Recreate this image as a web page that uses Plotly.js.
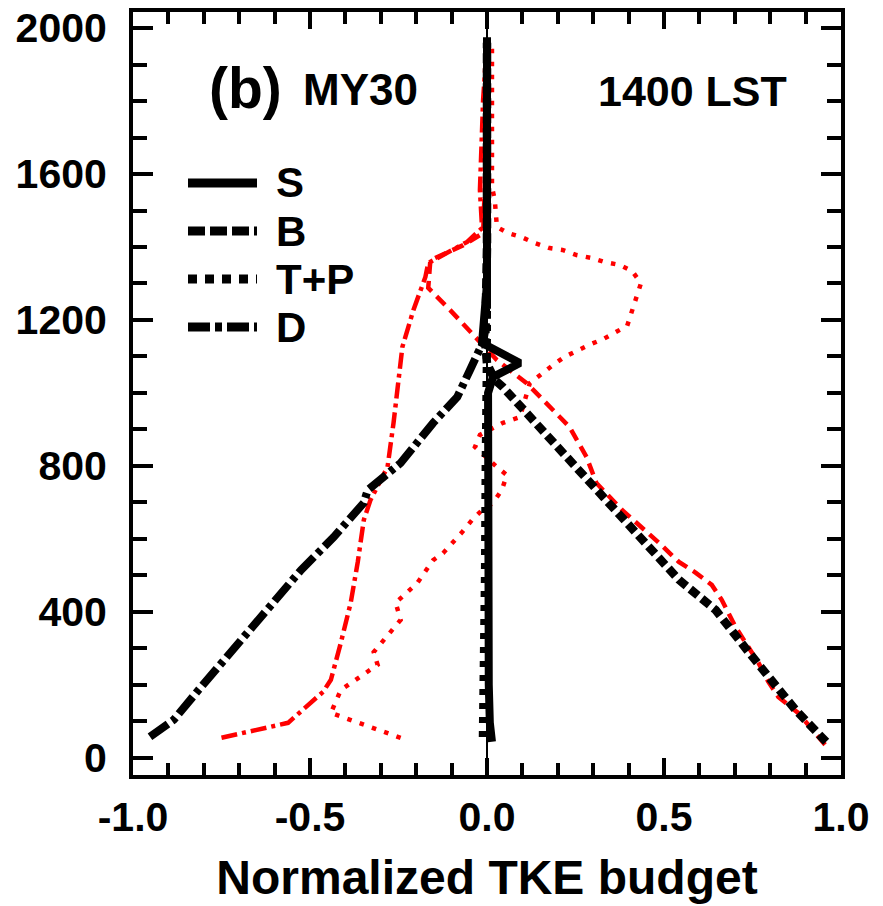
<!DOCTYPE html>
<html><head><meta charset="utf-8">
<script src="https://cdn.plot.ly/plotly-3.0.1.min.js"></script>
<style>html,body{margin:0;padding:0;background:#fff}</style>
</head><body>
<div id="chart" style="width:883px;height:906px"></div>
<script>
// ---- data (normalized TKE budget terms vs height in m) ----
const xTickVals = [-1, -0.5, 0, 0.5, 1];
const xTickText = ['-1.0', '-0.5', '0.0', '0.5', '1.0'];
const yTickVals = [0, 400, 800, 1200, 1600, 2000];
const yTickText = ['0', '400', '800', '1200', '1600', '2000'];

// black curves
const S_z = [44, 96, 200, 400, 600, 800, 1000, 1044, 1082, 1137, 1300, 1500, 1700, 1975];
const S_v = [0.014, 0.008, 0.005, 0.004, 0.003, 0.003, 0.003, 0.017, 0.093, -0.014, 0.0, 0.0, 0.0, 0.0];
const B_z = [44, 132, 290, 405, 488, 578, 679, 753, 852, 934, 1016, 1036, 1080, 1140, 1400, 1960];
const B_v = [0.958, 0.871, 0.739, 0.646, 0.542, 0.458, 0.365, 0.298, 0.205, 0.129, 0.045, 0.022, 0.0, -0.005, 0.0, 0.0];
const TP_z = [57, 200, 500, 800, 1000, 1150, 1960];
const TP_v = [-0.012, -0.009, -0.006, -0.004, -0.002, 0.0, 0.0];
const D_z = [58, 104, 186, 304, 425, 515, 605, 699, 734, 808, 918, 989, 1063, 1126, 1140, 1200, 1960];
const D_v = [-0.952, -0.885, -0.815, -0.713, -0.610, -0.525, -0.433, -0.348, -0.337, -0.244, -0.152, -0.084, -0.048, -0.020, -0.011, 0.0, 0.0];

// red curves
const rB_z = [36, 123, 167, 208, 260, 304, 359, 433, 474, 507, 537, 589, 638, 679, 753, 825, 907, 1027, 1090, 1200, 1227, 1288, 1364, 1405, 1438, 1600, 1960];
const rB_v = [0.955, 0.879, 0.823, 0.795, 0.767, 0.739, 0.702, 0.663, 0.635, 0.590, 0.542, 0.486, 0.430, 0.382, 0.309, 0.281, 0.233, 0.112, 0.028, -0.076, -0.104, -0.166, -0.160, -0.067, -0.011, -0.005, 0.0];
const rTP_z = [55, 123, 186, 255, 290, 378, 425, 479, 542, 561, 619, 652, 679, 699, 734, 775, 797, 852, 885, 918, 934, 1027, 1074, 1099, 1132, 1148, 1184, 1260, 1301, 1334, 1351, 1359, 1370, 1378, 1392, 1397, 1411, 1427, 1438, 1455, 1529, 1564, 1700, 1959];
const rTP_v = [-0.244, -0.441, -0.413, -0.309, -0.320, -0.244, -0.258, -0.197, -0.152, -0.124, -0.070, -0.042, -0.014, 0.017, 0.042, 0.056, 0.028, -0.034, -0.020, 0.045, 0.093, 0.121, 0.183, 0.219, 0.289, 0.329, 0.396, 0.421, 0.435, 0.410, 0.374, 0.331, 0.295, 0.253, 0.213, 0.177, 0.135, 0.098, 0.059, 0.028, 0.022, 0.014, 0.014, 0.014];
const rD_z = [55, 96, 181, 214, 315, 425, 537, 652, 707, 797, 918, 1126, 1227, 1318, 1356, 1414, 1452, 1556, 1803, 1967];
const rD_v = [-0.750, -0.562, -0.463, -0.441, -0.413, -0.385, -0.365, -0.348, -0.329, -0.281, -0.264, -0.239, -0.208, -0.174, -0.166, -0.056, -0.014, -0.020, -0.011, 0.0];

const legendNames = ['S', 'B', 'T+P', 'D'];

// ---- styles ----
const FONT = 'Liberation Sans, Arial, Helvetica, sans-serif';
const RED = '#ff0000';
function tr(x, y, color, width, dash) {
  return {x: x, y: y, type: 'scatter', mode: 'lines', showlegend: false, hoverinfo: 'skip',
          line: {color: color, width: width, dash: dash}};
}
const data = [
  tr(rTP_v, rTP_z, RED, 4.5, '4.5px,8.5px'),
  tr(rD_v, rD_z, RED, 4.5, '16px,5px,4px,5px'),
  tr(rB_v, rB_z, RED, 4.5, '12px,7px'),
  tr(TP_v, TP_z, '#000', 8, '6px,8px'),
  tr(D_v, D_z, '#000', 8, '22px,5px,5px,5px'),
  tr(B_v, B_z, '#000', 8.5, '10px,5px'),
  tr(S_v, S_z, '#000', 8, 'solid')
];

// legend samples (paper coords)
const L = 133, R = 841, T = 12, Bt = 775;
const xp = px => (px - L) / (R - L);
const yp = py => (Bt - py) / (Bt - T);
const legY = [183, 231, 279, 327];
const legDash = ['solid', '17px,5px', '9px,8px', '22px,5px,7px,5px'];
const shapes = legY.map((py, i) => ({type: 'line', xref: 'paper', yref: 'paper',
  x0: xp(188), x1: xp(257), y0: yp(py), y1: yp(py),
  line: {color: '#000', width: 9, dash: legDash[i]}}));
const annotations = legY.map((py, i) => ({xref: 'paper', yref: 'paper', x: xp(274), y: yp(py),
  xanchor: 'left', yanchor: 'middle', showarrow: false, text: legendNames[i],
  font: {family: FONT, size: 42, color: '#000', weight: 'bold'}}));
annotations.push({xref: 'paper', yref: 'paper', x: xp(207), y: yp(88), xanchor: 'left', yanchor: 'middle',
  showarrow: false, text: '(b)', font: {family: FONT, size: 57, color: '#000', weight: 'bold'}});
annotations.push({xref: 'paper', yref: 'paper', x: xp(301), y: yp(90), xanchor: 'left', yanchor: 'middle',
  showarrow: false, text: 'MY30', font: {family: FONT, size: 44, color: '#000', weight: 'bold'}});
annotations.push({xref: 'paper', yref: 'paper', x: xp(789), y: yp(91), xanchor: 'right', yanchor: 'middle',
  showarrow: false, text: '1400 LST', font: {family: FONT, size: 43, color: '#000', weight: 'bold'}});

const tickFont = {family: FONT, size: 41, color: '#000', weight: 'bold'};
const layout = {
  width: 883, height: 906,
  margin: {l: L, r: 883 - R, t: T, b: 906 - Bt, pad: 0},
  paper_bgcolor: '#fff', plot_bgcolor: '#fff',
  showlegend: false,
  xaxis: {
    range: [-1, 1], tickmode: 'array', tickvals: xTickVals, ticktext: xTickText,
    ticks: 'inside', ticklen: 17, tickwidth: 4, tickcolor: '#000',
    minor: {dtick: 0.1, tick0: 0, ticks: 'inside', ticklen: 12, tickwidth: 4, tickcolor: '#000', showgrid: false},
    showline: true, linewidth: 4, linecolor: '#000', mirror: 'ticks',
    showgrid: false, zeroline: true, zerolinecolor: '#000', zerolinewidth: 1.5,
    tickfont: tickFont, ticklabelstandoff: 3,
    title: {text: 'Normalized TKE budget', font: {family: FONT, size: 48, color: '#000', weight: 'bold'}, standoff: 22}
  },
  yaxis: {
    range: [-47, 2044], tickmode: 'array', tickvals: yTickVals, ticktext: yTickText,
    ticks: 'inside', ticklen: 20, tickwidth: 4, tickcolor: '#000',
    minor: {dtick: 100, tick0: 0, ticks: 'inside', ticklen: 14, tickwidth: 4, tickcolor: '#000', showgrid: false},
    showline: true, linewidth: 4, linecolor: '#000', mirror: 'ticks',
    showgrid: false, zeroline: false,
    tickfont: tickFont, ticklabelstandoff: 14
  },
  shapes: shapes,
  annotations: annotations
};
Plotly.newPlot('chart', data, layout, {staticPlot: true, displayModeBar: false});
</script>
</body></html>
